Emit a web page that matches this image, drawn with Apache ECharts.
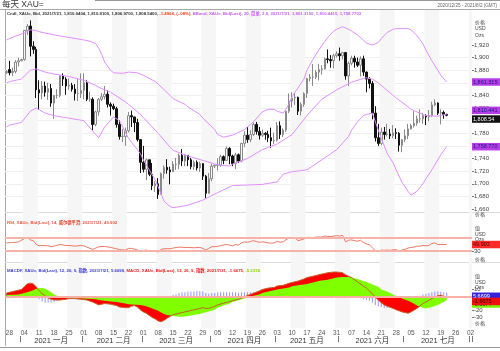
<!DOCTYPE html>
<html>
<head>
<meta charset="utf-8">
<script src="https://cdn.jsdelivr.net/npm/echarts@6/dist/echarts.min.js"></script>
<style>
  html, body { margin: 0; padding: 0; background: #fff; }
  #chart { width: 500px; height: 351px; }
</style>
</head>
<body>
<div id="chart"></div>
<script>
// trading days shown on the time axis (weekdays 2020/12/25 - 2021/8/2)
const dates = [];
for (let t = Date.UTC(2020, 11, 25); t <= Date.UTC(2021, 7, 2); t += 86400000) {
  const d = new Date(t);
  if (d.getUTCDay() !== 0 && d.getUTCDay() !== 6) dates.push(d.toISOString().slice(0, 10));
}
const monthNames = ['一月', '二月', '三月', '四月', '五月', '六月', '七月', '八月', '九月', '十月', '十一月', '十二月'];

// daily candles [open, close, low, high], 2020/12/25 .. 2021/7/21
const ohlc = [
  [1876, 1878, 1874, 1880],
  [1881, 1876, 1872, 1895], [1876, 1878, 1871, 1884], [1878, 1893, 1875, 1896], [1893, 1895, 1886, 1900], [1895, 1897, 1894, 1898],
  [1897, 1943, 1895, 1944], [1943, 1950, 1936, 1953], [1950, 1918, 1902, 1959], [1918, 1913, 1906, 1926], [1913, 1849, 1836, 1917],
  [1849, 1844, 1817, 1864], [1844, 1855, 1834, 1863], [1855, 1845, 1838, 1862], [1845, 1851, 1833, 1860], [1851, 1828, 1822, 1858],
  [1828, 1840, 1803, 1841], [1840, 1840, 1835, 1850], [1840, 1871, 1837, 1872], [1871, 1866, 1855, 1875], [1866, 1855, 1841, 1869],
  [1855, 1856, 1849, 1867], [1856, 1850, 1846, 1860], [1850, 1843, 1832, 1858], [1843, 1843, 1831, 1866], [1843, 1848, 1836, 1875],
  [1848, 1860, 1834, 1875], [1860, 1834, 1831, 1864], [1834, 1834, 1830, 1846], [1834, 1794, 1785, 1837], [1794, 1814, 1791, 1816],
  [1814, 1834, 1808, 1836], [1834, 1838, 1831, 1844], [1838, 1842, 1834, 1855], [1842, 1826, 1821, 1848], [1826, 1823, 1808, 1829],
  [1823, 1819, 1817, 1827], [1819, 1794, 1789, 1822], [1794, 1775, 1770, 1801], [1775, 1775, 1766, 1787], [1775, 1784, 1760, 1789],
  [1784, 1808, 1781, 1814], [1808, 1806, 1790, 1816], [1806, 1797, 1782, 1806], [1797, 1770, 1767, 1803], [1770, 1734, 1717, 1770],
  [1734, 1723, 1718, 1760], [1723, 1738, 1706, 1740], [1738, 1715, 1712, 1738], [1715, 1697, 1690, 1733], [1697, 1700, 1687, 1704],
  [1700, 1683, 1676, 1709], [1683, 1716, 1683, 1718], [1716, 1726, 1708, 1729], [1726, 1722, 1716, 1739], [1722, 1719, 1699, 1727],
  [1719, 1731, 1719, 1736], [1731, 1731, 1722, 1741], [1731, 1745, 1723, 1748], [1745, 1736, 1728, 1755], [1736, 1745, 1728, 1746],
  [1745, 1738, 1728, 1745], [1738, 1727, 1723, 1741], [1727, 1734, 1722, 1737], [1734, 1725, 1721, 1737], [1725, 1732, 1719, 1735],
  [1732, 1712, 1706, 1732], [1712, 1685, 1677, 1714], [1685, 1708, 1684, 1717], [1708, 1728, 1704, 1732], [1728, 1729, 1725, 1731],
  [1729, 1729, 1721, 1740], [1729, 1743, 1727, 1746], [1743, 1737, 1731, 1745], [1737, 1756, 1736, 1759], [1756, 1744, 1731, 1758],
  [1744, 1732, 1728, 1746], [1732, 1746, 1723, 1749], [1746, 1736, 1733, 1748], [1736, 1764, 1734, 1765], [1764, 1777, 1758, 1783],
  [1777, 1770, 1765, 1790], [1770, 1778, 1766, 1785], [1778, 1794, 1776, 1797], [1794, 1783, 1778, 1798], [1783, 1777, 1770, 1790],
  [1777, 1780, 1774, 1786], [1780, 1778, 1770, 1782], [1778, 1773, 1766, 1784], [1773, 1768, 1757, 1789], [1768, 1769, 1763, 1781],
  [1769, 1792, 1767, 1798], [1792, 1778, 1771, 1799], [1778, 1785, 1774, 1788], [1785, 1815, 1782, 1816], [1815, 1831, 1812, 1843],
  [1831, 1836, 1821, 1845], [1836, 1837, 1825, 1844], [1837, 1815, 1809, 1838], [1815, 1826, 1808, 1829], [1826, 1843, 1822, 1845],
  [1843, 1867, 1836, 1868], [1867, 1869, 1862, 1874], [1869, 1869, 1855, 1890], [1869, 1877, 1866, 1880], [1877, 1881, 1864, 1890],
  [1881, 1882, 1873, 1888], [1882, 1898, 1881, 1900], [1898, 1897, 1891, 1913], [1897, 1895, 1884, 1904], [1895, 1903, 1883, 1906],
  [1903, 1906, 1900, 1910], [1906, 1903, 1895, 1916], [1903, 1908, 1897, 1909], [1908, 1871, 1865, 1909], [1871, 1891, 1855, 1894],
  [1891, 1899, 1888, 1903], [1899, 1893, 1884, 1903], [1893, 1888, 1885, 1900], [1888, 1898, 1870, 1902], [1898, 1877, 1871, 1903],
  [1877, 1866, 1845, 1878], [1866, 1859, 1851, 1869], [1859, 1812, 1802, 1863], [1812, 1773, 1767, 1823], [1773, 1764, 1760, 1795],
  [1764, 1782, 1761, 1789], [1782, 1778, 1770, 1790], [1778, 1779, 1775, 1795], [1779, 1776, 1771, 1787], [1776, 1781, 1772, 1793],
  [1781, 1780, 1771, 1788], [1780, 1761, 1751, 1782], [1761, 1770, 1750, 1771], [1770, 1776, 1766, 1786], [1776, 1787, 1771, 1795],
  [1787, 1792, 1786, 1795], [1792, 1796, 1789, 1815], [1796, 1803, 1792, 1808], [1803, 1803, 1797, 1818], [1803, 1808, 1795, 1812],
  [1808, 1806, 1793, 1810], [1806, 1808, 1799, 1817], [1808, 1825, 1806, 1830], [1825, 1828, 1823, 1834], [1828, 1812, 1809, 1829],
  [1812, 1813, 1794, 1818], [1813, 1810, 1803, 1816], [1810.0404, 1808.54, 1806.97, 1810.81]
];

// Bollinger band (20, 2.0)
const bbUpper = [
  ['2020-12-25', 1928], ['2020-12-28', 1930], ['2020-12-30', 1934], ['2021-01-04', 1939], ['2021-01-06', 1944], ['2021-01-08', 1943],
  ['2021-01-11', 1941], ['2021-01-18', 1936], ['2021-01-25', 1932], ['2021-02-01', 1928], ['2021-02-03', 1926], ['2021-02-05', 1922],
  ['2021-02-08', 1915], ['2021-02-09', 1905], ['2021-02-10', 1893], ['2021-02-12', 1880], ['2021-02-15', 1876], ['2021-02-18', 1875],
  ['2021-02-22', 1877], ['2021-02-25', 1876], ['2021-03-01', 1872], ['2021-03-05', 1862], ['2021-03-08', 1858], ['2021-03-12', 1840],
  ['2021-03-15', 1835], ['2021-03-19', 1826], ['2021-03-22', 1822], ['2021-03-26', 1810], ['2021-03-29', 1804], ['2021-04-02', 1786],
  ['2021-04-05', 1778], ['2021-04-07', 1774], ['2021-04-12', 1777], ['2021-04-16', 1786], ['2021-04-19', 1790], ['2021-04-21', 1798],
  ['2021-04-26', 1814], ['2021-04-28', 1818], ['2021-04-30', 1818], ['2021-05-03', 1815], ['2021-05-05', 1812], ['2021-05-07', 1826],
  ['2021-05-10', 1838], ['2021-05-12', 1852], ['2021-05-14', 1866], ['2021-05-17', 1880], ['2021-05-19', 1897], ['2021-05-21', 1912],
  ['2021-05-24', 1919], ['2021-05-26', 1932], ['2021-05-28', 1942], ['2021-05-31', 1945], ['2021-06-02', 1949], ['2021-06-04', 1945],
  ['2021-06-07', 1942], ['2021-06-09', 1936], ['2021-06-11', 1928], ['2021-06-14', 1923], ['2021-06-16', 1920], ['2021-06-18', 1924],
  ['2021-06-21', 1930], ['2021-06-23', 1940], ['2021-06-25', 1945], ['2021-06-28', 1946], ['2021-07-02', 1946], ['2021-07-05', 1944],
  ['2021-07-07', 1935], ['2021-07-09', 1922], ['2021-07-12', 1912], ['2021-07-14', 1895], ['2021-07-16', 1880], ['2021-07-19', 1872],
  ['2021-07-21', 1861.315]
];
const bbMiddle = [
  ['2020-12-25', 1860], ['2020-12-28', 1862], ['2021-01-01', 1866], ['2021-01-06', 1880], ['2021-01-08', 1882], ['2021-01-13', 1877],
  ['2021-01-18', 1874], ['2021-01-25', 1870], ['2021-02-01', 1864], ['2021-02-05', 1856], ['2021-02-08', 1853], ['2021-02-12', 1845],
  ['2021-02-15', 1842], ['2021-02-19', 1830], ['2021-02-22', 1826], ['2021-02-26', 1810], ['2021-03-01', 1805], ['2021-03-05', 1785],
  ['2021-03-08', 1780], ['2021-03-12', 1758], ['2021-03-15', 1753], ['2021-03-19', 1746], ['2021-03-22', 1744], ['2021-03-29', 1737],
  ['2021-04-05', 1730], ['2021-04-09', 1728], ['2021-04-12', 1731], ['2021-04-19', 1740], ['2021-04-26', 1754], ['2021-05-03', 1763],
  ['2021-05-10', 1778], ['2021-05-17', 1808], ['2021-05-24', 1834], ['2021-05-31', 1849], ['2021-06-07', 1861], ['2021-06-11', 1867],
  ['2021-06-14', 1868], ['2021-06-16', 1866], ['2021-06-18', 1860], ['2021-06-21', 1856], ['2021-06-25', 1840], ['2021-06-28', 1836],
  ['2021-07-02', 1822], ['2021-07-05', 1818], ['2021-07-09', 1810], ['2021-07-12', 1808], ['2021-07-16', 1807], ['2021-07-19', 1808],
  ['2021-07-21', 1810.441]
];
const bbLower = [
  ['2020-12-25', 1790], ['2020-12-28', 1793], ['2021-01-01', 1797], ['2021-01-06', 1815], ['2021-01-08', 1820], ['2021-01-13', 1812],
  ['2021-01-18', 1808], ['2021-01-25', 1804], ['2021-02-01', 1800], ['2021-02-05', 1778], ['2021-02-08', 1773], ['2021-02-10', 1790],
  ['2021-02-15', 1806], ['2021-02-17', 1800], ['2021-02-22', 1772], ['2021-02-26', 1748], ['2021-03-01', 1738], ['2021-03-05', 1706],
  ['2021-03-08', 1695], ['2021-03-10', 1672], ['2021-03-12', 1664], ['2021-03-15', 1662], ['2021-03-22', 1666], ['2021-03-29', 1674],
  ['2021-04-05', 1686], ['2021-04-12', 1697], ['2021-04-19', 1698], ['2021-04-26', 1699], ['2021-05-03', 1703], ['2021-05-05', 1715],
  ['2021-05-10', 1719], ['2021-05-17', 1722], ['2021-05-24', 1738], ['2021-05-31', 1754], ['2021-06-04', 1775], ['2021-06-07', 1785],
  ['2021-06-09', 1798], ['2021-06-11', 1808], ['2021-06-14', 1810], ['2021-06-16', 1812], ['2021-06-18', 1785], ['2021-06-21', 1772],
  ['2021-06-23', 1748], ['2021-06-25', 1733], ['2021-06-28', 1722], ['2021-06-30', 1702], ['2021-07-02', 1688], ['2021-07-05', 1682],
  ['2021-07-07', 1688], ['2021-07-09', 1700], ['2021-07-12', 1708], ['2021-07-14', 1722], ['2021-07-16', 1738], ['2021-07-19', 1746],
  ['2021-07-21', 1758.7703]
];

// RSI (14, Wilder)
const rsi = [
  ['2020-12-25', 55], ['2020-12-29', 56], ['2020-12-31', 58], ['2021-01-04', 68], ['2021-01-05', 72], ['2021-01-06', 64], ['2021-01-07', 62],
  ['2021-01-08', 50], ['2021-01-11', 46], ['2021-01-12', 47], ['2021-01-14', 46], ['2021-01-15', 43], ['2021-01-18', 45], ['2021-01-20', 50],
  ['2021-01-22', 47], ['2021-01-25', 47], ['2021-01-27', 45], ['2021-01-29', 47], ['2021-02-01', 46], ['2021-02-02', 42], ['2021-02-04', 35],
  ['2021-02-05', 39], ['2021-02-08', 43], ['2021-02-10', 44], ['2021-02-12', 41], ['2021-02-16', 37], ['2021-02-17', 34], ['2021-02-19', 33],
  ['2021-02-22', 38], ['2021-02-23', 38], ['2021-02-24', 36], ['2021-02-25', 33], ['2021-02-26', 31], ['2021-03-01', 31], ['2021-03-02', 33],
  ['2021-03-03', 30], ['2021-03-04', 29], ['2021-03-05', 29], ['2021-03-08', 27], ['2021-03-09', 35], ['2021-03-10', 37], ['2021-03-12', 37],
  ['2021-03-15', 39], ['2021-03-17', 42], ['2021-03-19', 41], ['2021-03-22', 41], ['2021-03-24', 40], ['2021-03-26', 41], ['2021-03-29', 38],
  ['2021-03-30', 33], ['2021-03-31', 38], ['2021-04-01', 43], ['2021-04-05', 44], ['2021-04-06', 47], ['2021-04-08', 50], ['2021-04-09', 48],
  ['2021-04-12', 46], ['2021-04-13', 50], ['2021-04-14', 48], ['2021-04-15', 55], ['2021-04-16', 58], ['2021-04-19', 57], ['2021-04-20', 59],
  ['2021-04-21', 62], ['2021-04-22', 59], ['2021-04-23', 57], ['2021-04-26', 58], ['2021-04-27', 57], ['2021-04-28', 55], ['2021-04-29', 54],
  ['2021-04-30', 55], ['2021-05-03', 60], ['2021-05-04', 57], ['2021-05-05', 58], ['2021-05-06', 65], ['2021-05-07', 70], ['2021-05-10', 71],
  ['2021-05-11', 70], ['2021-05-12', 62], ['2021-05-13', 64], ['2021-05-14', 67], ['2021-05-17', 72], ['2021-05-18', 72], ['2021-05-19', 71],
  ['2021-05-20', 73], ['2021-05-21', 73], ['2021-05-24', 73], ['2021-05-25', 76], ['2021-05-26', 75], ['2021-05-27', 74], ['2021-05-28', 76],
  ['2021-05-31', 77], ['2021-06-01', 76], ['2021-06-02', 78], ['2021-06-03', 58], ['2021-06-04', 63], ['2021-06-07', 64], ['2021-06-08', 62],
  ['2021-06-09', 60], ['2021-06-10', 63], ['2021-06-11', 56], ['2021-06-14', 52], ['2021-06-15', 49], ['2021-06-16', 40], ['2021-06-17', 31],
  ['2021-06-18', 28], ['2021-06-21', 33], ['2021-06-22', 32], ['2021-06-23', 33], ['2021-06-24', 32], ['2021-06-25', 34], ['2021-06-28', 34],
  ['2021-06-29', 30], ['2021-06-30', 33], ['2021-07-01', 35], ['2021-07-02', 39], ['2021-07-05', 41], ['2021-07-06', 42], ['2021-07-07', 45],
  ['2021-07-08', 45], ['2021-07-09', 47], ['2021-07-12', 46], ['2021-07-13', 47], ['2021-07-14', 53], ['2021-07-15', 55], ['2021-07-16', 50],
  ['2021-07-19', 50], ['2021-07-20', 50], ['2021-07-21', 49.902]
];

// MACD (12, 26, 9)
const macd = [
  ['2020-12-25', 5], ['2020-12-29', 7], ['2021-01-01', 10], ['2021-01-04', 14], ['2021-01-05', 18], ['2021-01-06', 19], ['2021-01-07', 18],
  ['2021-01-08', 14], ['2021-01-11', 8], ['2021-01-12', 4], ['2021-01-14', -2], ['2021-01-15', -4], ['2021-01-18', -5], ['2021-01-20', -5],
  ['2021-01-22', -4], ['2021-01-25', -3], ['2021-01-27', -3], ['2021-01-29', -4], ['2021-02-02', -5], ['2021-02-04', -8], ['2021-02-05', -10],
  ['2021-02-08', -12], ['2021-02-10', -10], ['2021-02-12', -11], ['2021-02-16', -13], ['2021-02-17', -15], ['2021-02-19', -16], ['2021-02-22', -16],
  ['2021-02-23', -14], ['2021-02-24', -13], ['2021-02-25', -15], ['2021-02-26', -19], ['2021-03-01', -22], ['2021-03-02', -24], ['2021-03-03', -27],
  ['2021-03-04', -30], ['2021-03-05', -32], ['2021-03-08', -35], ['2021-03-09', -36], ['2021-03-10', -34], ['2021-03-11', -31], ['2021-03-12', -28.5],
  ['2021-03-15', -26], ['2021-03-17', -24], ['2021-03-19', -22], ['2021-03-22', -21], ['2021-03-24', -19], ['2021-03-26', -17], ['2021-03-29', -16],
  ['2021-03-30', -17], ['2021-03-31', -17], ['2021-04-02', -14], ['2021-04-05', -12], ['2021-04-07', -9.5], ['2021-04-09', -7.5], ['2021-04-12', -6],
  ['2021-04-14', -4], ['2021-04-16', -0.5], ['2021-04-19', 1.5], ['2021-04-21', 4.5], ['2021-04-23', 8], ['2021-04-26', 10], ['2021-04-28', 12],
  ['2021-04-30', 13], ['2021-05-03', 15], ['2021-05-05', 16], ['2021-05-07', 19], ['2021-05-10', 20], ['2021-05-12', 22], ['2021-05-14', 25],
  ['2021-05-17', 27], ['2021-05-19', 29], ['2021-05-21', 31], ['2021-05-24', 32], ['2021-05-26', 34], ['2021-05-28', 35], ['2021-05-31', 35],
  ['2021-06-02', 34], ['2021-06-03', 31], ['2021-06-04', 29], ['2021-06-07', 27], ['2021-06-09', 21], ['2021-06-11', 15], ['2021-06-14', 12],
  ['2021-06-15', 8], ['2021-06-16', 4], ['2021-06-17', -1], ['2021-06-18', -5], ['2021-06-21', -9], ['2021-06-22', -12], ['2021-06-23', -14],
  ['2021-06-25', -17], ['2021-06-28', -19], ['2021-06-30', -22], ['2021-07-02', -24], ['2021-07-05', -22], ['2021-07-07', -17], ['2021-07-09', -10],
  ['2021-07-12', -8], ['2021-07-14', -3], ['2021-07-16', 1], ['2021-07-19', 2], ['2021-07-20', 0], ['2021-07-21', -1.6675]
];
const signal = [
  ['2020-12-25', 2], ['2020-12-31', 3], ['2021-01-05', 6], ['2021-01-07', 9], ['2021-01-08', 11], ['2021-01-11', 12], ['2021-01-12', 12],
  ['2021-01-13', 11], ['2021-01-14', 9], ['2021-01-15', 6], ['2021-01-18', 3], ['2021-01-19', 1], ['2021-01-20', -1], ['2021-01-22', -2],
  ['2021-01-27', -2.5], ['2021-02-01', -3], ['2021-02-05', -4], ['2021-02-08', -5], ['2021-02-12', -7], ['2021-02-16', -8], ['2021-02-19', -10],
  ['2021-02-22', -11], ['2021-02-26', -12], ['2021-03-01', -13], ['2021-03-02', -14], ['2021-03-03', -15.5], ['2021-03-04', -17], ['2021-03-05', -18.5],
  ['2021-03-08', -20.5], ['2021-03-09', -23], ['2021-03-10', -25], ['2021-03-11', -26.5], ['2021-03-12', -27], ['2021-03-15', -28], ['2021-03-17', -29],
  ['2021-03-19', -28.5], ['2021-03-22', -28], ['2021-03-24', -26.5], ['2021-03-26', -25], ['2021-03-29', -23.5], ['2021-03-31', -21.5], ['2021-04-02', -19],
  ['2021-04-05', -16], ['2021-04-07', -13], ['2021-04-09', -10], ['2021-04-12', -8], ['2021-04-14', -5.5], ['2021-04-16', -3], ['2021-04-19', -1],
  ['2021-04-21', 1], ['2021-04-23', 3], ['2021-04-26', 5], ['2021-04-28', 7], ['2021-04-30', 9], ['2021-05-03', 10], ['2021-05-05', 11.5],
  ['2021-05-07', 13], ['2021-05-10', 14.5], ['2021-05-12', 16], ['2021-05-14', 17], ['2021-05-17', 18], ['2021-05-19', 20], ['2021-05-21', 22],
  ['2021-05-24', 23], ['2021-05-26', 24], ['2021-05-28', 26], ['2021-05-31', 27], ['2021-06-02', 28], ['2021-06-04', 28], ['2021-06-07', 27],
  ['2021-06-09', 25], ['2021-06-11', 22], ['2021-06-14', 21], ['2021-06-16', 17], ['2021-06-18', 14], ['2021-06-21', 10], ['2021-06-23', 7],
  ['2021-06-25', 3], ['2021-06-28', 0], ['2021-06-30', -3], ['2021-07-02', -6], ['2021-07-05', -8], ['2021-07-07', -13], ['2021-07-09', -16],
  ['2021-07-12', -17], ['2021-07-14', -15], ['2021-07-16', -12], ['2021-07-19', -10], ['2021-07-21', -5.3374]
];
// MACDF histogram, one value per trading day
const macdHist = [
  4,
  4, 4, 5, 5, 6,   8, 9, 8, 7, 3,   -4, -7, -9, -9, -9,   -8, -6, -3, -2, -2,   -1, -1, -1, -1, -1,
  -1, -2, -2, -4, -5,   -6, -5, -4, -4, -4,   -4, -5, -6, -6, -6,   -5, -3, -2, -3, -6,
  -8, -9, -10, -11, -12,   -13, -12, -9, -5, -2,   2, 3, 5, 6, 6,   7, 7, 7, 8, 8,   7, 5, 4, 5, 5,
  6, 6, 6, 6, 6,   6, 6, 5, 6, 6,   6, 6, 6, 6, 5,   5, 5, 4, 4, 3,
  4, 3, 3, 4, 5,   5, 5, 4, 4, 5,   6, 6, 6, 6, 6,   6, 6, 6, 6, 6,   5, 5, 4, 2, 1,
  0, -1, -2, -2, -4,   -5, -6, -9, -12, -14,   -15, -16, -16, -16, -15,   -14, -14, -13, -12, -11,
  -8, -5, -2, 1, 3,   4, 5, 6, 7, 7,   7, 6, 5.6699
];

// axis tick labels
const priceTicks = [1660, 1680, 1700, 1720, 1740, 1760, 1780, 1800, 1820, 1840, 1860, 1880, 1900, 1920];
const rsiTicks = [30];
const macdTicks = [10, -20, -30];

const FONT = 'Liberation Sans, Noto Sans CJK SC, sans-serif';
const last = arr => arr[arr.length - 1][1];
const fmt = (v, d) => v.toLocaleString('en-US', { minimumFractionDigits: d, maximumFractionDigits: d });
const isMonday = v => new Date(v + 'T00:00:00Z').getUTCDay() === 1;

// first trading day and middle trading day of each month
const monthFirst = new Set();
const monthMid = new Set();
const byMonth = {};
dates.forEach((d, i) => { (byMonth[d.slice(0, 7)] = byMonth[d.slice(0, 7)] || []).push(i); });
Object.keys(byMonth).forEach(k => {
  const idx = byMonth[k];
  if (idx[0] > 0) monthFirst.add(idx[0]);
  if (idx.length > 10) monthMid.add(idx[Math.floor(idx.length / 2)]);
});

// value box on the right edge of a panel
function tag(value, text, bg, fg, va) {
  return {
    yAxis: value,
    lineStyle: { width: 0, color: 'rgba(0,0,0,0)' },
    label: {
      show: true, position: 'end', distance: 0, formatter: text,
      backgroundColor: bg, color: fg, fontSize: 5.5, fontFamily: FONT,
      padding: [1, 0, 1, 1], width: 27, overflow: 'truncate', ellipsis: '',
      verticalAlign: va || 'middle'
    }
  };
}

function valueAxis(grid, min, max, interval, ticks, split) {
  return {
    type: 'value', gridIndex: grid, position: 'right', min: min, max: max, interval: interval, scale: true,
    axisLine: { show: false },
    axisTick: { show: true, length: 2, customValues: ticks, lineStyle: { color: '#777' } },
    axisLabel: {
      customValues: ticks, fontSize: 6, color: '#444', margin: 2, fontFamily: FONT,
      formatter: v => ticks.indexOf(v) >= 0 ? v.toLocaleString('en-US') : ''
    },
    splitLine: { show: split, showMinLine: false, showMaxLine: false, lineStyle: { color: '#efefef', width: 1 } }
  };
}

function hiddenX(grid) {
  return { type: 'category', gridIndex: grid, data: dates, boundaryGap: true, show: false };
}

const chart = echarts.init(document.getElementById('chart'), null, { renderer: 'canvas' });

chart.setOption({
  animation: false,
  backgroundColor: '#fff',
  textStyle: { fontFamily: FONT },
  title: [
    { left: 2, top: 0, padding: 0, text: '每天 XAU=', textStyle: { fontSize: 8.5, fontWeight: 'normal', color: '#333', fontFamily: FONT } },
    { right: 3, top: 3, padding: 0, text: '2020/12/25 - 2021/8/2 (GMT)', textStyle: { fontSize: 4.6, fontWeight: 'normal', color: '#666', fontFamily: FONT } },
    {
      left: 7, top: 12, padding: 0,
      text: '{k|Cndl, XAU=, Bid, 2021/7/21, 1,810.0404, 1,810.8100, 1,806.9700, 1,808.5400, }{r|-1.4904, (-.08%), }{p|BBand, XAU=, Bid(Last), 20, 简单, 2.0, 2021/7/21, 1,861.3150, 1,810.4410, 1,758.7703}',
      textStyle: { rich: {
        k: { fontSize: 4.3, color: '#333', fontFamily: FONT },
        r: { fontSize: 4.3, color: '#f0401c', fontFamily: FONT },
        p: { fontSize: 4.3, color: '#c65cf0', fontFamily: FONT }
      } }
    },
    {
      left: 7, top: 221, padding: 0,
      text: '{a|RSI, XAU=, Bid(Last), 14, }{b|威尔德平滑}{a|, 2021/7/21, 49.902}',
      textStyle: { rich: {
        a: { fontSize: 4.3, color: '#e8583f', fontFamily: FONT },
        b: { fontSize: 4.3, color: '#e03a20', fontWeight: 'bold', fontFamily: FONT }
      } }
    },
    {
      left: 7, top: 269, padding: 0,
      text: '{b|MACDF, XAU=, Bid(Last), 12, 26, 9, 指数, 2021/7/21, 5.6699, }{r|MACD, XAU=, Bid(Last), 12, 26, 9, 指数, 2021/7/21, -1.6675, }{g|-5.3374}',
      textStyle: { rich: {
        b: { fontSize: 4.3, color: '#3b3bd0', fontFamily: FONT },
        r: { fontSize: 4.3, color: '#e41c1c', fontFamily: FONT },
        g: { fontSize: 4.3, color: '#8ad400', fontFamily: FONT }
      } }
    },
    { left: 475, top: 19, padding: 0, text: '价格\nUSD\nOzs', textStyle: { fontSize: 5, lineHeight: 6.5, fontWeight: 'normal', color: '#444', fontFamily: FONT } },
    { left: 475, top: 212, padding: 0, text: '价格', textStyle: { fontSize: 5, fontWeight: 'normal', color: '#444', fontFamily: FONT } },
    { left: 475, top: 226, padding: 0, text: '值\nUSD\nOzs', textStyle: { fontSize: 5, lineHeight: 5.5, fontWeight: 'normal', color: '#444', fontFamily: FONT } },
    { left: 475, top: 257, padding: 0, text: '价格', textStyle: { fontSize: 5, fontWeight: 'normal', color: '#444', fontFamily: FONT } },
    { left: 475, top: 274, padding: 0, text: '值\nUSD\nOzs', textStyle: { fontSize: 5, lineHeight: 5.5, fontWeight: 'normal', color: '#444', fontFamily: FONT } },
    { left: 475, top: 321, padding: 0, text: '价格', textStyle: { fontSize: 5, fontWeight: 'normal', color: '#444', fontFamily: FONT } }
  ],
  graphic: [
    { type: 'line', silent: true, shape: { x1: 95, y1: 0.5, x2: 500, y2: 0.5 }, style: { stroke: '#999', lineWidth: 1 } },
    { type: 'line', silent: true, shape: { x1: 0, y1: 9.5, x2: 500, y2: 9.5 }, style: { stroke: '#aaa', lineWidth: 1 } },
    { type: 'line', silent: true, shape: { x1: 5.5, y1: 9.5, x2: 5.5, y2: 346 }, style: { stroke: '#aaa', lineWidth: 1 } },
    { type: 'line', silent: true, shape: { x1: 5, y1: 212.5, x2: 500, y2: 212.5 }, style: { stroke: '#dcdcdc', lineWidth: 1 } },
    { type: 'line', silent: true, shape: { x1: 5, y1: 262.5, x2: 500, y2: 262.5 }, style: { stroke: '#dcdcdc', lineWidth: 1 } },
    { type: 'line', silent: true, shape: { x1: 0, y1: 347.5, x2: 500, y2: 347.5 }, style: { stroke: '#999', lineWidth: 1 } }
  ],
  grid: [
    { left: 5, right: 28, top: 10, bottom: 23 },
    { left: 5, right: 28, top: 7.15, bottom: 129.4 },
    { left: 5, right: 28, top: 212, bottom: 90.25 },
    { left: 5, right: 28, top: 268.5, bottom: 19.5 }
  ],
  xAxis: [
    {
      type: 'category', gridIndex: 0, data: dates, boundaryGap: true,
      axisLine: { show: false }, axisTick: { show: false },
      axisLabel: { interval: (i, v) => isMonday(v), formatter: v => v.slice(8), fontSize: 6.5, color: '#555', margin: 2, fontFamily: FONT },
      splitLine: { show: false },
      splitArea: { show: true, interval: (i, v) => isMonday(v), areaStyle: { color: ['rgba(255,255,255,0)', 'rgba(255,255,255,0)', '#f6f6f6'] } }
    },
    {
      type: 'category', gridIndex: 0, data: dates, boundaryGap: true, position: 'bottom', offset: 8,
      axisLine: { show: false },
      axisTick: { show: true, length: 6, interval: i => monthFirst.has(i), lineStyle: { color: '#777' } },
      axisLabel: {
        interval: i => monthMid.has(i), margin: 1, fontSize: 7.5, color: '#333', fontFamily: FONT,
        formatter: v => v.slice(0, 4) + ' ' + monthNames[+v.slice(5, 7) - 1]
      }
    },
    hiddenX(1), hiddenX(2), hiddenX(3)
  ],
  yAxis: [
    { type: 'value', gridIndex: 0, show: false },
    valueAxis(1, 1640, 1980, 20, priceTicks, true),
    valueAxis(2, 0, 150, 10, rsiTicks, false),
    valueAxis(3, -50, 40, 10, macdTicks, false)
  ],
  series: [
    {
      type: 'candlestick', xAxisIndex: 2, yAxisIndex: 1, data: ohlc, barWidth: 2,
      itemStyle: { color: '#f6f6f6', color0: '#111', borderColor: '#8a8a8a', borderColor0: '#111', borderWidth: 1 },
      markLine: {
        silent: true, symbol: ['none', 'none'], z: 10,
        data: [tag(ohlc[ohlc.length - 1][1], fmt(ohlc[ohlc.length - 1][1], 2), '#111', '#fff', 'top')]
      }
    },
    {
      type: 'line', xAxisIndex: 2, yAxisIndex: 1, data: bbUpper, showSymbol: false, symbol: 'none',
      lineStyle: { color: '#e190ff', width: 1 },
      markLine: { silent: true, symbol: ['none', 'none'], data: [tag(last(bbUpper), fmt(last(bbUpper), 4), '#b63ee6', '#1a1a7a')] }
    },
    {
      type: 'line', xAxisIndex: 2, yAxisIndex: 1, data: bbMiddle, showSymbol: false, symbol: 'none',
      lineStyle: { color: '#e190ff', width: 1 },
      markLine: { silent: true, symbol: ['none', 'none'], data: [tag(last(bbMiddle), fmt(last(bbMiddle), 4), '#b63ee6', '#1a1a7a', 'bottom')] }
    },
    {
      type: 'line', xAxisIndex: 2, yAxisIndex: 1, data: bbLower, showSymbol: false, symbol: 'none',
      lineStyle: { color: '#e190ff', width: 1 },
      markLine: { silent: true, symbol: ['none', 'none'], data: [tag(last(bbLower), fmt(last(bbLower), 4), '#b63ee6', '#1a1a7a')] }
    },
    {
      type: 'line', xAxisIndex: 3, yAxisIndex: 2, data: rsi, showSymbol: false, symbol: 'none',
      lineStyle: { color: '#ee7863', width: 1 },
      markLine: {
        silent: true, symbol: ['none', 'none'],
        data: [
          { yAxis: 70, lineStyle: { color: '#f8b3a9', width: 2, type: 'solid' }, label: { show: false } },
          { yAxis: 30, lineStyle: { color: '#f8b3a9', width: 2, type: 'solid' }, label: { show: false } },
          tag(last(rsi), fmt(last(rsi), 3), '#ff2a2a', '#400')
        ]
      }
    },
    {
      type: 'line', xAxisIndex: 4, yAxisIndex: 3, data: macd, showSymbol: false, symbol: 'none',
      lineStyle: { width: 0 }, areaStyle: { color: '#ff0000', opacity: 1 }
    },
    {
      type: 'line', xAxisIndex: 4, yAxisIndex: 3, data: signal, showSymbol: false, symbol: 'none',
      lineStyle: { width: 0 }, areaStyle: { color: '#80ff00', opacity: 1 }
    },
    {
      type: 'line', xAxisIndex: 4, yAxisIndex: 3, data: macd, showSymbol: false, symbol: 'none',
      lineStyle: { color: '#c4622c', width: 1 }
    },
    {
      type: 'bar', xAxisIndex: 4, yAxisIndex: 3, data: macdHist, barWidth: 1,
      itemStyle: { color: 'rgba(92,92,255,0.65)' },
      markLine: {
        silent: true, symbol: ['none', 'none'],
        data: [
          { yAxis: 0, lineStyle: { color: '#f8b0a4', width: 2, type: 'solid' }, label: { show: false } },
          tag(5.6699, '5.6699', '#3423d8', '#fff', 'top'),
          tag(last(signal), fmt(last(signal), 4), '#7ff000', '#0a3a00', 'top'),
          tag(last(macd), fmt(last(macd), 4), '#f01010', '#300', 'top')
        ]
      }
    }
  ]
});
</script>
</body>
</html>
